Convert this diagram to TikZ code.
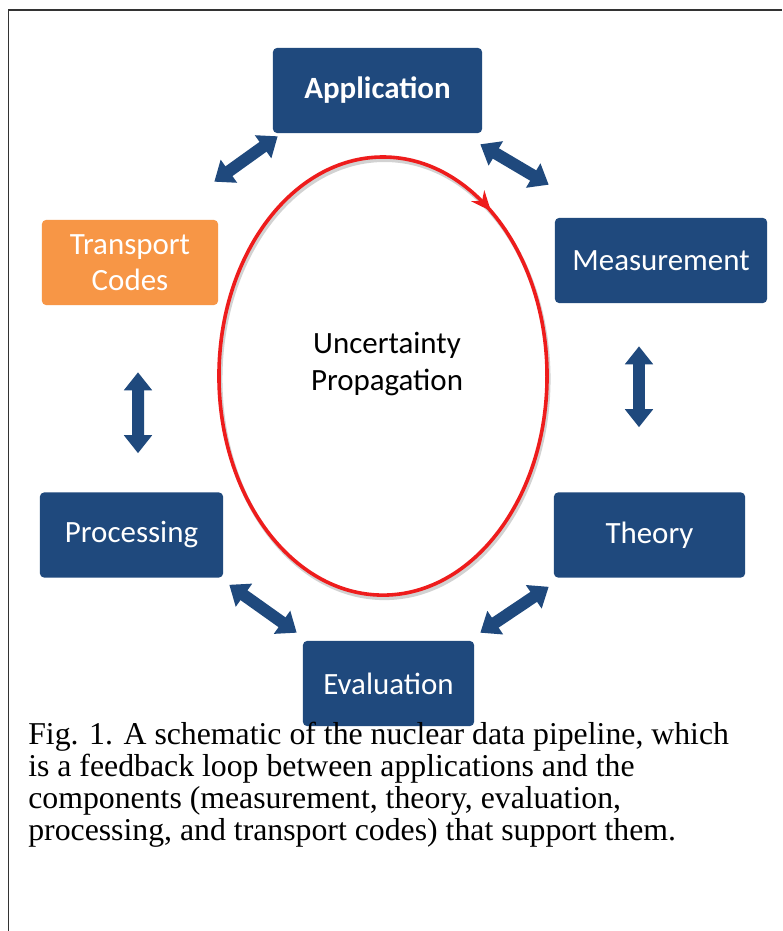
\documentclass[tikz,border=0pt]{standalone}
\usepackage{fontspec}
\setmainfont{Liberation Serif}
\newfontfamily\boxfont{Carlito}
\usetikzlibrary{calc}
\usetikzlibrary{arrows.meta}
\usetikzlibrary{decorations.markings}

\definecolor{navy}{HTML}{1F497D}
\definecolor{tangerine}{HTML}{F79646}
\definecolor{loopred}{HTML}{EE1C1C}

\tikzset{
	stage/.style={fill=navy, text=white, rounded corners=0.1cm, minimum height=2.125cm, inner sep=0pt, align=center, font=\boxfont\fontsize{22}{26}\selectfont},
	dblarrow/.style={draw=navy, line width=0.3cm, {Triangle[width=0.68cm,length=0.45cm]}-{Triangle[width=0.68cm,length=0.45cm]}}
}

\begin{document}
\begin{tikzpicture}[x=0.025cm, y=-0.025cm]

	%Page and frame
	\useasboundingbox (0,0) rectangle (782,931);
	\fill[white] (0,0) rectangle (782,931);
	\draw[line width=0.04cm, black!80] (8.5,931) -- (8.5,10) -- (782,10);

	%The loop in the middle, drawn clockwise from the top
	\draw[gray!35, line width=0.1cm] (384.5,160) arc[start angle=90, end angle=-270, x radius=4.1cm, y radius=5.475cm];
	\draw[loopred, line width=0.09cm, postaction={decorate}, decoration={markings, mark=at position 0.103 with {\arrow{Stealth[length=0.5cm,width=0.42cm]}}}] (383,157) arc[start angle=90, end angle=-270, x radius=4.1cm, y radius=5.475cm];
	\node[font=\boxfont\fontsize{22}{26.3}\selectfont, align=center](up) at (387,364) {Uncertainty\\Propagation};

	%The six stages
	\node[stage, minimum width=5.225cm, font=\boxfont\bfseries\fontsize{22}{26}\selectfont](app) at (377.5,90.5) {Application};
	\node[stage, minimum width=4.4cm, fill=tangerine](trans) at (130,262.5) {Transport\\Codes};
	\node[stage, minimum width=5.3cm](meas) at (661,260.5) {Measurement};
	\node[stage, minimum width=4.575cm](proc) at (131.5,535) {Processing};
	\node[stage, minimum width=4.775cm](theo) at (649.5,535) {Theory};
	\node[stage, minimum width=4.275cm](eval) at (388.5,683.5) {Evaluation};

	%Double arrows between the stages
	\draw[dblarrow] ($(app.south west)+(5,3)$) -- ($(trans.north east)+(-4,-38)$);
	\draw[dblarrow] ($(app.south east)+(-2,11)$) -- ($(meas.north west)+(-6,-33)$);
	\draw[dblarrow] ($(trans.south)+(8,67)$) -- ($(proc.north)+(6.5,-39)$);
	\draw[dblarrow] ($(meas.south)+(-22,43)$) -- ($(theo.north)+(-10.5,-65)$);
	\draw[dblarrow] ($(proc.south east)+(6,7)$) -- ($(eval.north west)+(-6,-8)$);
	\draw[dblarrow] ($(theo.south west)+(-5,9)$) -- ($(eval.north east)+(6,-8)$);

	%Caption
	\node[anchor=north west, inner sep=0pt, align=left, font=\fontsize{22.6}{22.6}\selectfont](cap) at (28,722) {Fig. 1. A schematic of the nuclear data pipeline, which\\is a feedback loop between applications and the\\components (measurement, theory, evaluation,\\processing, and transport codes) that support them.};

\end{tikzpicture}
\end{document}
